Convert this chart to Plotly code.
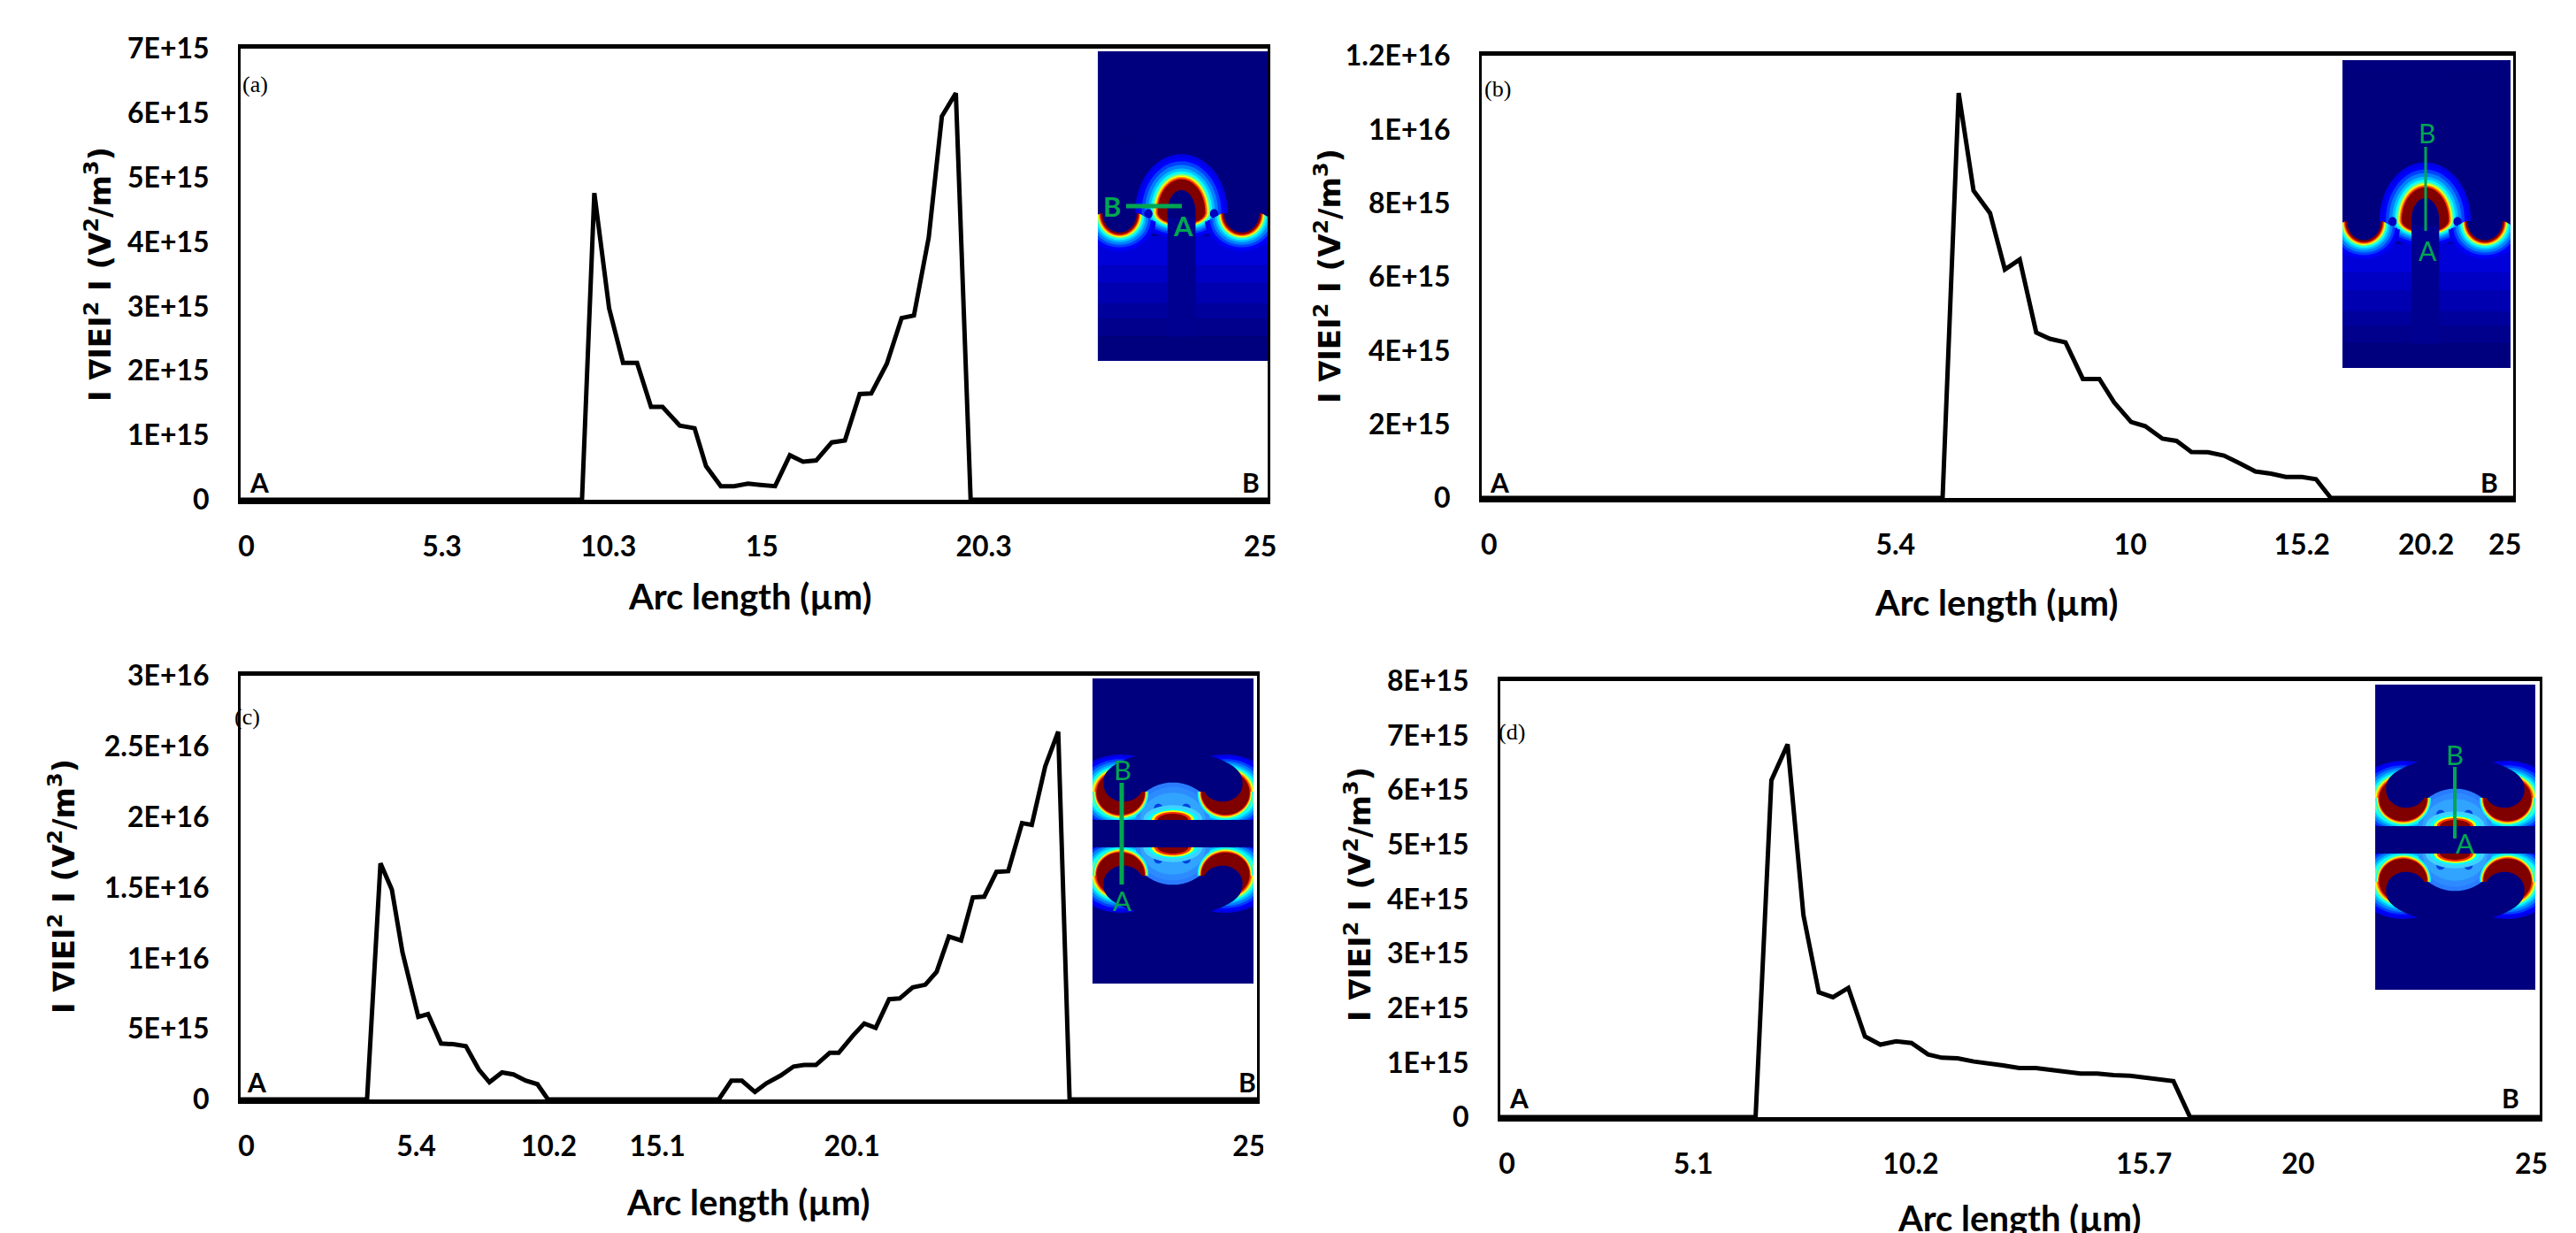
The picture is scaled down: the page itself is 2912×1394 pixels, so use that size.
import numpy as np
import plotly.graph_objects as go

W, H = 2912, 1394
BLACK = "#000000"
GREEN = "#00a651"
NAVY = "#00007f"
TICK_FONT = "Lato, Open Sans, sans-serif"
TITLE_FONT = "DejaVu Sans, sans-serif"

# ---------- data (x on a 0-25 axis span, y in units of 1E15) ----------
a_x = [0, 8.31, 8.61, 8.97, 9.31, 9.65, 9.99, 10.27, 10.69, 11.05, 11.33, 11.69, 12.01, 12.35, 12.65, 13.01, 13.37, 13.69,
       14.01, 14.39, 14.71, 15.07, 15.35, 15.73, 16.09, 16.39, 16.75, 17.07, 17.41, 17.77, 25]
a_y = [0, 0, 4.76, 2.97, 2.125, 2.125, 1.44, 1.44, 1.15, 1.11, 0.52, 0.21, 0.21, 0.25, 0.23, 0.21, 0.69, 0.59,
       0.61, 0.89, 0.92, 1.64, 1.65, 2.11, 2.82, 2.86, 4.07, 5.95, 6.31, 0, 0]
b_x = [0, 11.17, 11.56, 11.92, 12.32, 12.68, 13.04, 13.44, 13.77, 14.15, 14.57, 14.97, 15.33, 15.74, 16.08, 16.50, 16.84,
       17.20, 17.60, 17.99, 18.39, 18.75, 19.13, 19.49, 19.88, 20.22, 20.58, 25]
b_y = [0, 0, 10.99, 8.34, 7.73, 6.20, 6.47, 4.49, 4.32, 4.22, 3.23, 3.23, 2.59, 2.06, 1.95, 1.61, 1.55,
       1.25, 1.24, 1.15, 0.93, 0.72, 0.66, 0.57, 0.57, 0.51, 0, 0]
c_x = [0, 3.11, 3.44, 3.72, 3.98, 4.37, 4.61, 4.93, 5.23, 5.54, 5.86, 6.12, 6.43, 6.71, 7.01, 7.30, 7.56, 11.76, 12.07, 12.33,
       12.65, 12.93, 13.28, 13.60, 13.86, 14.15, 14.49, 14.71, 15.06, 15.34, 15.62, 15.95, 16.21, 16.53, 16.84, 17.12, 17.42,
       17.72, 18.01, 18.29, 18.59, 18.88, 19.22, 19.46, 19.79, 20.11, 20.39, 25]
c_y = [0, 0, 16.72, 14.86, 10.43, 5.85, 6.04, 3.96, 3.91, 3.77, 2.11, 1.22, 1.91, 1.77, 1.33, 1.08, 0, 0, 1.33, 1.33,
       0.53, 1.14, 1.69, 2.33, 2.44, 2.44, 3.30, 3.30, 4.52, 5.38, 5.07, 7.10, 7.15, 7.93, 8.12, 9.04, 11.53,
       11.26, 14.31, 14.36, 16.11, 16.16, 19.57, 19.44, 23.59, 26.04, 0, 0]
d_x = [0, 6.14, 6.52, 6.91, 7.29, 7.66, 8.00, 8.37, 8.77, 9.14, 9.52, 9.89, 10.29, 10.62, 11.00, 11.39, 12.09, 12.48, 12.88,
       13.96, 14.36, 14.75, 15.15, 16.19, 16.59, 25]
d_y = [0, 0, 6.18, 6.84, 3.71, 2.29, 2.20, 2.37, 1.48, 1.33, 1.39, 1.36, 1.15, 1.09, 1.08, 1.02, 0.95, 0.90, 0.90,
       0.80, 0.80, 0.77, 0.76, 0.66, 0, 0]

a_xtick_pos = [0.14, 4.90, 8.95, 12.69, 18.09, 24.82]
a_xtick_txt = ["0", "5.3", "10.3", "15", "20.3", "25"]
b_xtick_pos = [0.18, 10.03, 15.72, 19.88, 22.89, 24.80]
b_xtick_txt = ["0", "5.4", "10", "15.2", "20.2", "25"]
c_xtick_pos = [0.14, 4.32, 7.58, 10.25, 15.04, 24.80]
c_xtick_txt = ["0", "5.4", "10.2", "15.1", "20.1", "25"]
d_xtick_pos = [0.16, 4.64, 9.87, 15.48, 19.19, 24.80]
d_xtick_txt = ["0", "5.1", "10.2", "15.7", "20", "25"]

a_ytick_val = [0, 1, 2, 3, 4, 5, 6, 7]
a_ytick_txt = ["0", "1E+15", "2E+15", "3E+15", "4E+15", "5E+15", "6E+15", "7E+15"]
b_ytick_val = [0, 2, 4, 6, 8, 10, 12]
b_ytick_txt = ["0", "2E+15", "4E+15", "6E+15", "8E+15", "1E+16", "1.2E+16"]
c_ytick_val = [0, 5, 10, 15, 20, 25, 30]
c_ytick_txt = ["0", "5E+15", "1E+16", "1.5E+16", "2E+16", "2.5E+16", "3E+16"]
d_ytick_val = [0, 1, 2, 3, 4, 5, 6, 7, 8]
d_ytick_txt = ["0", "1E+15", "2E+15", "3E+15", "4E+15", "5E+15", "6E+15", "7E+15", "8E+15"]

X_TITLE = "Arc length (µm)"
Y_TITLE = "I ∇IEI<sup>2</sup> I (V<sup>2</sup>/m<sup>3</sup>)"

# ---------- layout of the four panels, in page pixels ----------
panels = [
    dict(tag="(a)", x=a_x, y=a_y, tp=a_xtick_pos, tt=a_xtick_txt, yv=a_ytick_val, yt=a_ytick_txt,
         box=(272, 1433, 55, 565), tag_xy=(288, 96), A=(293, 545), B=(1414, 545),
         xt=(847, 674), yt_xy=(111, 310)),
    dict(tag="(b)", x=b_x, y=b_y, tp=b_xtick_pos, tt=b_xtick_txt, yv=b_ytick_val, yt=b_ytick_txt,
         box=(1675, 2841, 63, 563), tag_xy=(1693, 100), A=(1695, 545), B=(2814, 545),
         xt=(2256, 681), yt_xy=(1501, 312)),
    dict(tag="(c)", x=c_x, y=c_y, tp=c_xtick_pos, tt=c_xtick_txt, yv=c_ytick_val, yt=c_ytick_txt,
         box=(272, 1421, 764, 1243), tag_xy=(279, 810), A=(290, 1223), B=(1410, 1223),
         xt=(845, 1359), yt_xy=(70, 1002)),
    dict(tag="(d)", x=d_x, y=d_y, tp=d_xtick_pos, tt=d_xtick_txt, yv=d_ytick_val, yt=d_ytick_txt,
         box=(1696, 2871, 770, 1263), tag_xy=(1709, 827), A=(1717, 1241), B=(2838, 1241),
         xt=(2282, 1377), yt_xy=(1535, 1011)),
]

fig = go.Figure()
annos, shapes = [], []


def text(px, py, s, size, font=TICK_FONT, color=BLACK, bold=True, angle=0):
    annos.append(dict(x=px / W, y=1 - py / H, xref="paper", yref="paper", text=f"<b>{s}</b>" if bold else s,
                      showarrow=False, xanchor="center", yanchor="middle", textangle=angle,
                      font=dict(family=font, size=size, color=color)))


for i, p in enumerate(panels):
    n = "" if i == 0 else str(i + 1)
    l, r, t, b = p["box"]
    fig.add_trace(go.Scatter(x=p["x"], y=[v * 1e15 for v in p["y"]], mode="lines", xaxis=f"x{n}", yaxis=f"y{n}",
                             line=dict(color=BLACK, width=5, shape="linear"), showlegend=False, cliponaxis=False))
    fig.layout[f"xaxis{n}"] = dict(
        domain=[l / W, r / W], range=[0, 25], anchor=f"y{n}", tickmode="array", tickvals=p["tp"], ticktext=p["tt"],
        ticks="", showgrid=False, zeroline=False, showline=True, mirror=True, linecolor=BLACK, linewidth=5,
        ticklabelstandoff=21, tickfont=dict(family=TICK_FONT, size=32, color=BLACK, weight="bold"), tickangle=0)
    fig.layout[f"yaxis{n}"] = dict(
        domain=[1 - b / H, 1 - t / H], range=[0, max(p["yv"]) * 1e15], anchor=f"x{n}", tickmode="array",
        tickvals=[v * 1e15 for v in p["yv"]], ticktext=p["yt"], ticks="", showgrid=False, zeroline=False,
        showline=True, mirror=True, linecolor=BLACK, linewidth=3, ticklabelstandoff=26,
        tickfont=dict(family=TICK_FONT, size=32, color=BLACK, weight="bold"))
    text(*p["A"], "A", 30)
    text(*p["B"], "B", 30)
    text(*p["tag_xy"], p["tag"], 26, font="Liberation Serif, serif", bold=False)
    text(*p["xt"], X_TITLE, 40)
    text(*p["yt_xy"], Y_TITLE, 34, font=TITLE_FONT, angle=-90)

# ---------- the field-map insets, drawn as stacked filled shapes ----------
BANDS = [(1.0, "#0000e6"), (.9, "#0000ff"), (.8, "#0040ff"), (.7, "#0080ff"), (.6, "#00bfff"), (.52, "#00ffff"),
         (.47, "#40ffbf"), (.43, "#a0ff60"), (.40, "#ffff00"), (.37, "#ffa000"), (.34, "#ff3000"), (.30, "#800000")]


def painter(src, dst):
    sx0, sx1, sy0, sy1 = src
    dx0, dx1, dy0, dy1 = dst

    def poly(pts, color):
        pts = np.asarray(pts, float)
        xs = dx0 + (np.clip(pts[:, 0], sx0, sx1) - sx0) / (sx1 - sx0) * (dx1 - dx0)
        ys = dy0 + (np.clip(pts[:, 1], sy0, sy1) - sy0) / (sy1 - sy0) * (dy1 - dy0)
        d = "M " + " L ".join(f"{u / W:.5f},{1 - v / H:.5f}" for u, v in zip(xs, ys)) + " Z"
        shapes.append(dict(type="path", path=d, xref="paper", yref="paper", fillcolor=color,
                           line=dict(width=0), layer="above"))
    return poly


def ell(cx, cy, rx, ry, t0=0.0, t1=2 * np.pi, k=56):
    t = np.linspace(t0, t1, k)
    return np.column_stack([cx + rx * np.cos(t), cy - ry * np.sin(t)])


def dome_inset(dst):
    src = (63, 640, 55, 1103)
    poly = painter(src, dst)
    rect = lambda x0, x1, y0, y1, c: poly([(x0, y0), (x1, y0), (x1, y1), (x0, y1)], c)
    rect(63, 640, 55, 1103, NAVY)
    for y0, y1, c in [(680, 780, "#0000d8"), (780, 840, "#0000c4"), (840, 910, "#0000b0"),
                      (910, 960, "#00009c"), (960, 1020, "#00008c")]:
        rect(63, 640, y0, y1, c)
    # dome: upper half follows the band radius, lower half closes shallowly
    for f, c in BANDS:
        rx, up = 48 + f * 109, 75 + f * 122
        upper = ell(347, 600, rx, up, 0, np.pi)
        lower = ell(347, 600, rx, 20 + f * 70, np.pi, 2 * np.pi)
        poly(np.vstack([upper, lower]), c)
    hole = ell(347, 600, 48, 75, 0, np.pi)
    poly(np.vstack([[(395, 625)], hole, [(300, 625)]]), NAVY)
    rect(300, 395, 620, 1020, "#000090")
    poly(ell(235, 605, 14, 16), "#0000c0")
    poly(ell(458, 605, 14, 16), "#0000c0")
    # cups either side
    for cx, hx in ((137, 58), (552, 60)):
        for f, c in BANDS:
            off = (f - .22) / .78 * 68
            poly(ell(cx, 600 + off * .45, hx + off * .95, 68 + off * .55, np.pi, 2 * np.pi), c)
        poly(ell(cx, 603, hx, 65, np.pi, 2 * np.pi), NAVY)
    for path in ([(63, 105), (265, 105), (265, 290), (135, 370), (85, 500)],
                 [(640, 105), (428, 105), (428, 290), (560, 370), (610, 500)],
                 [(63, 1020), (297, 1020), (297, 700)], [(640, 1020), (397, 1020), (397, 700)]):
        pts = np.array(path, float)
        back = pts[::-1] + [0, 2]
        poly(np.vstack([pts, back]), "#000070")


def gap_inset(dst):
    src = (45, 590, 52, 1087)
    poly = painter(src, dst)
    poly([(45, 52), (590, 52), (590, 1087), (45, 1087)], NAVY)

    for flip in (False, True):
        def put(pts, c, mx=False, ymin=None):
            pts = np.asarray(pts, float).copy()
            pts[:, 1] = np.minimum(pts[:, 1], 532)
            if ymin is not None:
                pts[:, 1] = np.maximum(pts[:, 1], ymin)
            if mx:
                pts[:, 0] = 635 - pts[:, 0]
            if flip:
                pts[:, 1] = 1157 - pts[:, 1]
            poly(pts, c)

        for mx in (False, True):
            for f, c in BANDS:
                g = (f - .30) / .70
                put(ell(140, 440, 82 + g * 85, 75 + g * 55), c, mx)
        put(ell(317, 400, 235, 100, 0, np.pi), NAVY)
        put([(200, 400), (435, 400), (435, 470), (200, 470)], NAVY)
        lens = ell(317, 530, 138, 125, 0, np.pi)
        lens[:, 0] = np.clip(lens[:, 0], 207, 428)
        put(lens, "#2a7cff")
        put(ell(317, 532, 125, 112, 0, np.pi), "#2c8cff")
        put(ell(317, 532, 110, 92, 0, np.pi), "#30a4ff")
        put(ell(268, 492, 15, 15), "#0040e0")
        put(ell(362, 492, 15, 15), "#0040e0")
        put(ell(317, 532, 100, 50, 0, np.pi), "#40d0ff")
        put(ell(317, 532, 85, 38, 0, np.pi), "#00ffff")
        put(ell(317, 532, 72, 32, 0, np.pi), "#ffff00")
        put(ell(317, 532, 62, 27, 0, np.pi), "#ff3000")
        put(ell(317, 532, 52, 21, 0, np.pi), "#800000")
        # warm rim of each crescent laps over the lens edge
        for mx in (False, True):
            for f, c in BANDS:
                if f <= .52:
                    g = (f - .30) / .70
                    put(ell(140, 440, 82 + g * 40, 75 + g * 55), c, mx, ymin=436)
            put(ell(150, 410, 68, 60), NAVY, mx)
    poly([(45, 532), (590, 532), (590, 625), (45, 625)], NAVY)


dome_inset((1241, 1433, 58, 408))
dome_inset((2648, 2838, 68, 416))
gap_inset((1235, 1417, 767, 1112))
gap_inset((2685, 2866, 774, 1119))


def seg(x0, y0, x1, y1, w):
    shapes.append(dict(type="line", x0=x0 / W, x1=x1 / W, y0=1 - y0 / H, y1=1 - y1 / H, xref="paper", yref="paper",
                       line=dict(color=GREEN, width=w), layer="above"))


seg(1273, 233, 1336, 233, 5)
text(1257, 233, "B", 31, color=GREEN)
text(1337, 255, "A", 31, color=GREEN)
seg(2742, 166, 2742, 261, 3)
text(2743, 150, "B", 30, color=GREEN, bold=False)
text(2744, 283, "A", 30, color=GREEN, bold=False)
seg(1268, 885, 1268, 1000, 5)
text(1269, 870, "B", 31, color=GREEN, bold=False)
text(1268, 1018, "A", 31, color=GREEN, bold=False)
seg(2775, 867, 2775, 948, 4)
text(2775, 853, "B", 31, color=GREEN, bold=False)
text(2786, 953, "A", 31, color=GREEN, bold=False)

# reference clips the last label of panel (c)
shapes.append(dict(type="rect", x0=1428 / W, x1=1446 / W, y0=1 - 1325 / H, y1=1 - 1275 / H, xref="paper", yref="paper",
                   fillcolor="#ffffff", line=dict(width=0), layer="above"))

fig.update_layout(template="none", width=W, height=H, autosize=False, margin=dict(l=0, r=0, t=0, b=0, pad=0, autoexpand=False),
                  paper_bgcolor="#ffffff", plot_bgcolor="#ffffff", annotations=annos, shapes=shapes, showlegend=False)
fig.write_html("out.html", post_script="document.body.style.margin='0';", config=dict(displayModeBar=False))
